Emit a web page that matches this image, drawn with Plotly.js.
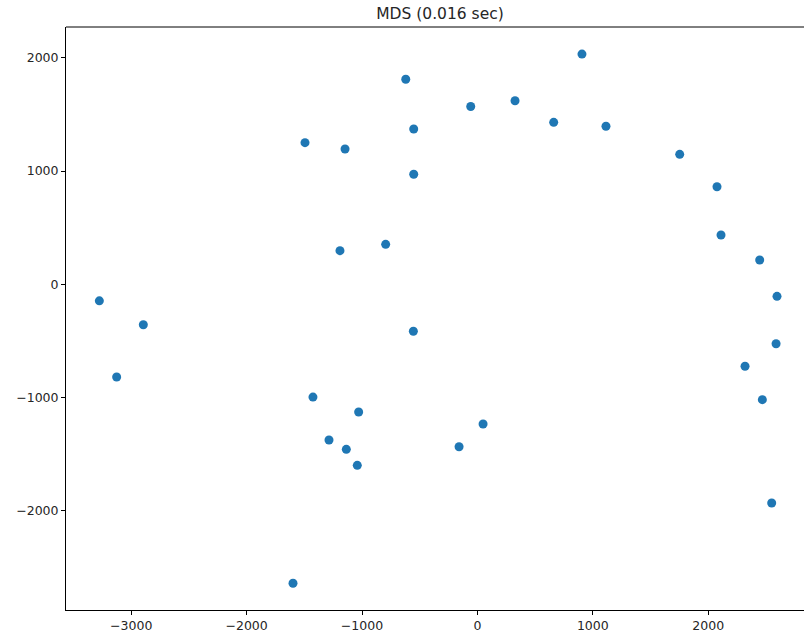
<!DOCTYPE html>
<html>
<head>
<meta charset="utf-8">
<script src="https://cdn.plot.ly/plotly-3.0.1.min.js"></script>
<style>html,body{margin:0;padding:0;background:#fff;}#chart{width:804px;height:638px;}</style>
</head>
<body>
<div id="chart"></div>
<script>
// MDS embedding coordinates
const xValues = [906, -621, -58, 326, 661, 1114, -1494, -1147, -552, -552,
  1753, 2076, 2111, 2446, 2596, -795, -1191, -3276, -2895, -3126,
  -555, 2588, 2319, 2469, -1425, -1029, -1286, -1136, -1041, -159,
  49, 2550, -1598];
const yValues = [2034, 1811, 1571, 1622, 1431, 1396, 1251, 1195, 1372, 972,
  1148, 862, 436, 215, -106, 353, 297, -146, -357, -819,
  -415, -525, -724, -1019, -996, -1128, -1375, -1458, -1599, -1435,
  -1234, -1932, -2641];
const xTicks = [-3000, -2000, -1000, 0, 1000, 2000];
const yTicks = [-2000, -1000, 0, 1000, 2000];
const tickText = v => (v < 0 ? '\u2212' + Math.abs(v) : String(v));
const titleText = 'MDS (0.016 sec)';

const trace = {
  x: xValues, y: yValues, type: 'scatter', mode: 'markers',
  marker: {color: '#1f77b4', size: 9},
  hoverinfo: 'x+y'
};
const font = {family: 'DejaVu Sans', size: 12.5, color: '#262626'};
const layout = {
  width: 804, height: 638,
  margin: {l: 66, r: 0, t: 27, b: 28, pad: 0},
  paper_bgcolor: '#fff', plot_bgcolor: '#fff',
  showlegend: false,
  font: font,
  title: {text: titleText, font: {family: 'DejaVu Sans', size: 15.5, color: '#262626'},
    x: 440 / 804, xref: 'paper', xanchor: 'center', y: 1 - 14 / 638, yref: 'container', yanchor: 'middle'},
  xaxis: {range: [-3565, 2830], tickvals: xTicks, ticktext: xTicks.map(tickText),
    showgrid: false, zeroline: false, showline: true, linecolor: '#000', linewidth: 1,
    ticks: 'outside', ticklen: 4, tickcolor: '#000', tickwidth: 1, tickfont: font},
  yaxis: {range: [-2877, 2273], tickvals: yTicks, ticktext: yTicks.map(tickText),
    showgrid: false, zeroline: false, showline: true, linecolor: '#000', linewidth: 1,
    ticks: 'outside', ticklen: 4, tickcolor: '#000', tickwidth: 1, tickfont: font},
  shapes: [{type: 'line', xref: 'paper', yref: 'paper', x0: 0, x1: 1, y0: 1, y1: 1,
    line: {color: '#000', width: 1}}]
};
layout.title.xref = 'container';
Plotly.newPlot('chart', [trace], layout, {displayModeBar: false, staticPlot: true});
</script>
</body>
</html>
